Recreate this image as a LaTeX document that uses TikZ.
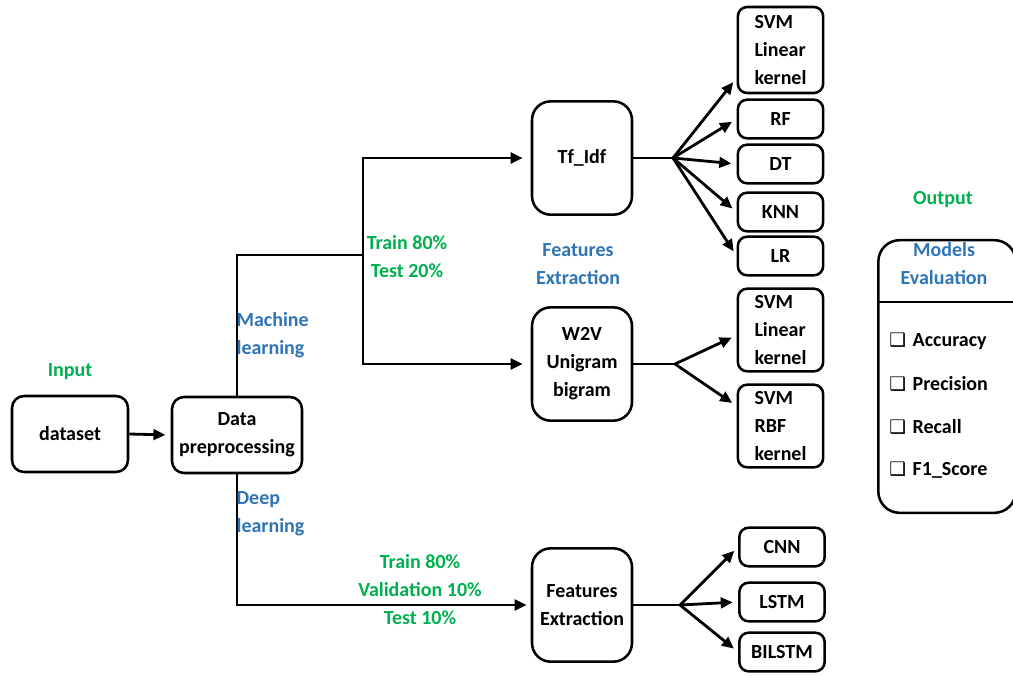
\documentclass[tikz,border=0pt]{standalone}
\usepackage{fontspec}
\setmainfont{Carlito}
\newfontfamily\symfont{DejaVu Sans}
\usetikzlibrary{arrows.meta}
\definecolor{lblgreen}{RGB}{0,176,80}
\definecolor{lblblue}{RGB}{46,117,182}
\newcommand{\chk}{{\symfont\fontsize{14}{14}\selectfont ❑}\hspace{5pt}}
\begin{document}
\begin{tikzpicture}[x=0.75pt,y=-0.75pt,
  font=\fontsize{15}{21}\selectfont\bfseries,
  box/.style={draw,line width=1.9pt,rounded corners=9pt,inner sep=2pt,align=center},
  bigbox/.style={box,minimum width=75pt,minimum height=85pt,rounded corners=14pt},
  model/.style={box,minimum width=64pt,minimum height=29pt,rounded corners=7pt,align=left},
  conn/.style={line width=2.1pt},
  arr/.style={conn,-{Triangle[length=9pt,width=8pt]},shorten >=4pt},
  greenlbl/.style={text=lblgreen,align=center,inner sep=1pt},
  bluelbl/.style={text=lblblue,align=center,inner sep=1pt}]
\useasboundingbox (0,0) rectangle (1013,675);

% input and preprocessing
\node[box,minimum width=87pt,minimum height=57pt] (data) at (70,434) {dataset};
\node[box,minimum width=97.5pt,minimum height=57pt] (prep) at (237,435) {Data\\preprocessing};
\node[greenlbl] (inlbl) at (70,372) {Input};
\draw[arr] (data.east) -- (prep.west);

% machine learning branch
\node[bigbox] (tfidf) at (582,158) {Tf\_Idf};
\node[bigbox] (w2v) at (582,364) {W2V\\Unigram\\bigram};
\coordinate (ml) at (363,255);
\draw[conn] (prep.north) |- (ml);
\draw[arr,shorten >=6pt] (ml) |- (tfidf.west);
\draw[arr,shorten >=6pt] (ml) |- (w2v.west);
\node[bluelbl,anchor=west,align=left] (mllbl) at (235,335) {Machine\\learning};
\node[greenlbl] (split1) at (407,257) {Train 80\%\\Test 20\%};
\node[bluelbl] (felbl) at (578,264) {Features\\Extraction};

% classifiers on Tf_Idf features
\node[model,minimum height=64.5pt] (svma) at (780.5,50) {SVM\\Linear\\kernel};
\node[model] (rf) at (780.5,119) {RF};
\node[model] (dt) at (780.5,164) {DT};
\node[model] (knn) at (780.5,212) {KNN};
\node[model] (lr) at (780.5,256) {LR};
\coordinate (fa) at (673,158);
\draw[conn] (tfidf.east) -- (fa);
\draw[arr] (fa) -- ([yshift=-21pt]svma.west);
\draw[arr] (fa) -- (rf.west);
\draw[arr] (fa) -- (dt.west);
\draw[arr] (fa) -- (knn.west);
\draw[arr] (fa) -- (lr.west);

% classifiers on W2V features
\node[model,minimum height=62pt] (svmb) at (780.5,330) {SVM\\Linear\\kernel};
\node[model,minimum height=62pt] (svmc) at (780.5,426) {SVM\\RBF\\kernel};
\coordinate (fb) at (675,364);
\draw[conn] (w2v.east) -- (fb);
\draw[arr] (fb) -- ([yshift=-4pt]svmb.west);
\draw[arr] (fb) -- ([yshift=15pt]svmc.west);

% deep learning branch
\node[bigbox] (fe) at (582,605) {Features\\Extraction};
\draw[arr,shorten >=3pt] (prep.south) |- (fe.west);
\node[bluelbl,anchor=west,align=left] (dllbl) at (235,514) {Deep\\learning};
\node[greenlbl] (split2) at (420,590) {Train 80\%\\Validation 10\%\\Test 10\%};
\node[model] (cnn) at (782,547) {CNN};
\node[model] (lstm) at (782,602) {LSTM};
\node[model] (bilstm) at (782,652) {BILSTM};
\coordinate (fc) at (680,605);
\draw[conn] (fe.east) -- (fc);
\draw[arr] (fc) -- (cnn.west);
\draw[arr] (fc) -- (lstm.west);
\draw[arr] (fc) -- (bilstm.west);

% output: evaluation metrics (box runs past the right edge of the page)
\node[greenlbl] (outlbl) at (943,200) {Output};
\node[draw,line width=1.9pt,rounded corners=16pt,minimum width=103pt,minimum height=204.5pt] (eval) at (947,376.5) {};
\draw[line width=1.6pt] (eval.west |- 0,302) -- (eval.east |- 0,302);
\node[bluelbl] (evtitle) at (944,264) {Models\\Evaluation};
\node[anchor=west,inner sep=0pt] (m1) at (889,341) {\chk Accuracy};
\node[anchor=west,inner sep=0pt] (m2) at (889,384) {\chk Precision};
\node[anchor=west,inner sep=0pt] (m3) at (889,427) {\chk Recall};
\node[anchor=west,inner sep=0pt] (m4) at (889,470) {\chk F1\_Score};
\end{tikzpicture}
\end{document}
